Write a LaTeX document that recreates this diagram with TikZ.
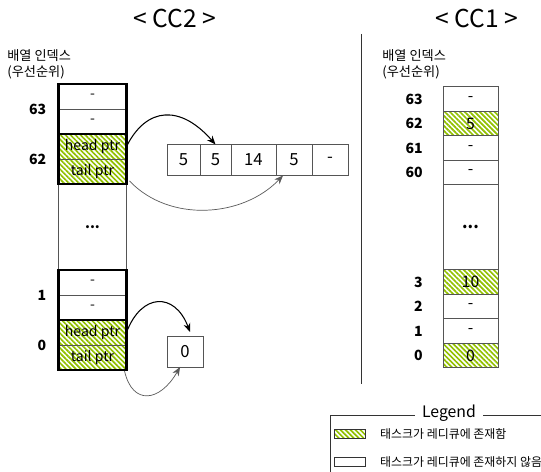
\documentclass[tikz,border=0pt]{standalone}
\usepackage{fontspec}
\setmainfont{Noto Sans CJK KR}
\usepackage{xcolor}
\usetikzlibrary{positioning, calc, arrows.meta, patterns.meta}

\definecolor{hatchgreen}{HTML}{92C000}
\definecolor{cellline}{HTML}{555555}

\begin{document}
\begin{tikzpicture}[x=0.02cm, y=-0.02cm, >={Stealth[length=5pt,width=4pt]}, node distance=0pt,
    cellL/.style = {draw=cellline, thin, minimum width=1.36cm, minimum height=0.5cm, inner sep=0pt, outer sep=0pt, font=\fontsize{8}{9}\selectfont},
    cellR/.style = {draw=cellline, thin, minimum width=1.1cm, minimum height=0.49cm, inner sep=0pt, outer sep=0pt, font=\fontsize{9}{10}\selectfont},
    item/.style = {draw=cellline, thin, minimum height=0.62cm, inner sep=0pt, outer sep=0pt, font=\fontsize{9.5}{11}\selectfont},
    ready/.style = {pattern={Lines[angle=-45, distance=2pt, line width=0.95pt]}, pattern color=hatchgreen},
    grp/.style = {draw=black, line width=1.2pt},
    idx/.style = {font=\fontsize{8}{9}\selectfont\bfseries, inner sep=0pt},
    hdr/.style = {font=\fontsize{7.5}{9}\selectfont, inner sep=0pt, align=left},
    title/.style = {font=\fontsize{14}{16}\selectfont},
    ptr/.style = {->, black, semithick},
    tailptr/.style = {->, black!65, thin}]

\useasboundingbox (0,0) rectangle (541,472);

% titles
\node[title] (cc2) at (175,18) {< CC2 >};
\node[title] (cc1) at (477,18) {< CC1 >};
\draw[black!80] (361,34) -- (361,384);

% ---- CC2 ----
\node[hdr, anchor=north west] (hdr2) at (7,49) {배열 인덱스\\ (우선순위)};

\node[cellL] (c63a) at (92.5,96.5) {-};
\node[cellL, below=of c63a] (c63b) {-};
\node[cellL, ready, below=of c63b] (c62h) {head ptr};
\node[cellL, ready, below=of c62h] (c62t) {tail ptr};
\node[cellL, below=of c62t, minimum height=1.72cm] (dots2) {\textbf{...}};
\node[cellL, below=of dots2] (c1a) {-};
\node[cellL, below=of c1a] (c1b) {-};
\node[cellL, ready, below=of c1b] (c0h) {head ptr};
\node[cellL, ready, below=of c0h] (c0t) {tail ptr};

\draw[grp] (c63a.north west) rectangle (c63b.south east);
\draw[grp] (c62h.north west) rectangle (c62t.south east);
\draw[grp] (c1a.north west) rectangle (c1b.south east);
\draw[grp] (c0h.north west) rectangle (c0t.south east);

\node[idx, left=0.24cm of c63a.south west] (i63) {63};
\node[idx, left=0.24cm of c62h.south west] (i62) {62};
\node[idx, left=0.24cm of c1a.south west] (i1) {1};
\node[idx, left=0.24cm of c0h.south west] (i0) {0};

% task list of 62
\node[item, minimum width=0.66cm] (l1) at (183.5,160) {5};
\node[item, minimum width=0.62cm, right=of l1] (l2) {5};
\node[item, minimum width=0.9cm, right=of l2] (l3) {14};
\node[item, minimum width=0.72cm, right=of l3] (l4) {5};
\node[item, minimum width=0.72cm, right=of l4] (l5) {-};

% task list of 0
\node[item, minimum width=0.72cm] (z1) at (185,351.5) {0};

\draw[ptr] (c62h.east) .. controls +(20,-40) and +(-35,-40) .. (l2.north);
\draw[tailptr] ($(c62t.south east)+(3,-3)$) .. controls +(40,42) and +(-40,42) .. ($(l4.south west)+(7,0)$);
\draw[ptr] (c0h.east) .. controls +(15,-40) and +(-15,-40) .. ($(z1.north)+(5,-4)$);
\draw[tailptr] ($(c0t.south east)+(-2,1)$) .. controls +(8,35) and +(-20,35) .. ($(z1.south)+(-5,0)$);

% ---- CC1 ----
\node[hdr, anchor=north west] (hdr1) at (382,49) {배열 인덱스\\ (우선순위)};

\node[cellR] (r63) at (470.5,99) {-};
\node[cellR, ready, below=of r63] (r62) {5};
\node[cellR, below=of r62] (r61) {-};
\node[cellR, below=of r61] (r60) {-};
\node[cellR, below=of r60, minimum height=1.7cm] (dots1) {\textbf{...}};
\node[cellR, ready, below=of dots1] (r3) {10};
\node[cellR, below=of r3] (r2) {-};
\node[cellR, below=of r2] (r1) {-};
\node[cellR, ready, below=of r1] (r0) {0};

\foreach \r/\t in {r63/63, r62/62, r61/61, r60/60, r3/3, r2/2, r1/1, r0/0}
  \node[idx, left=0.4cm of \r.west] (i\r) {\t};

% ---- legend ----
\draw[black!80] (330,472) -- (330,415) -- (541,415);
\node[fill=white, font=\fontsize{9}{10}\selectfont, inner xsep=4pt] (leg) at (449,413) {Legend};
\node[draw=black!80, ready, minimum width=0.62cm, minimum height=0.17cm, inner sep=0pt] (sw1) at (350,434) {};
\node[draw=black!80, minimum width=0.62cm, minimum height=0.17cm, inner sep=0pt] (sw2) at (350,462) {};
\node[anchor=west, font=\fontsize{6.8}{8}\selectfont] (t1) at (374,434) {태스크가 레디큐에 존재함};
\node[anchor=west, font=\fontsize{6.8}{8}\selectfont] (t2) at (374,462) {태스크가 레디큐에 존재하지 않음};

\end{tikzpicture}
\end{document}
